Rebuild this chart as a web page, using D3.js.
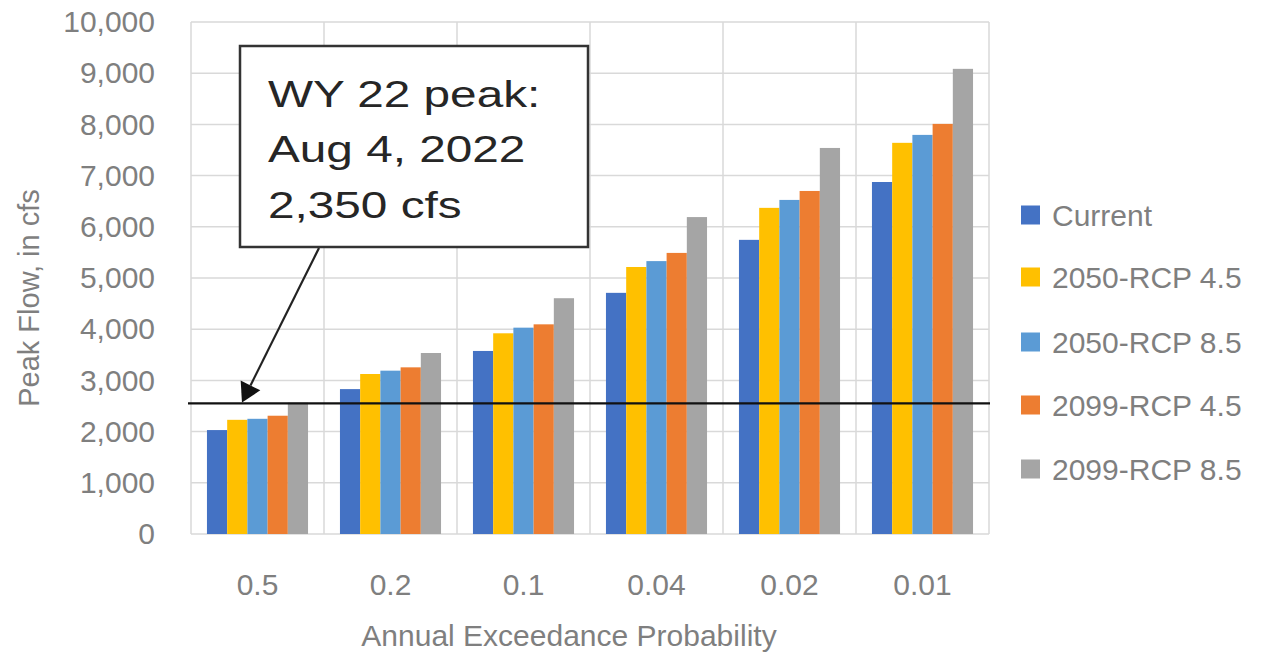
<!DOCTYPE html>
<html>
<head>
<meta charset="utf-8">
<script src="https://cdn.jsdelivr.net/npm/d3@7"></script>
<style>
  html, body { margin: 0; padding: 0; background: #fff; }
  svg { display: block; font-family: "Liberation Sans", Arial, sans-serif; }
</style>
</head>
<body>
<svg id="chart" width="1262" height="660"></svg>
<script>
const categories = ["0.5", "0.2", "0.1", "0.04", "0.02", "0.01"];
const seriesNames = ["Current", "2050-RCP 4.5", "2050-RCP 8.5", "2099-RCP 4.5", "2099-RCP 8.5"];
const seriesColors = ["#4472C4", "#FFC000", "#5B9BD5", "#ED7D31", "#A5A5A5"];
const current   = [2030, 2830, 3575, 4710, 5745, 6875];
const rcp2050_45 = [2230, 3125, 3920, 5215, 6370, 7640];
const rcp2050_85 = [2250, 3190, 4030, 5330, 6525, 7795];
const rcp2099_45 = [2310, 3255, 4095, 5490, 6700, 8010];
const rcp2099_85 = [2565, 3535, 4605, 6190, 7540, 9085];
const seriesValues = [current, rcp2050_45, rcp2050_85, rcp2099_45, rcp2099_85];
const yTicks = [0, 1000, 2000, 3000, 4000, 5000, 6000, 7000, 8000, 9000, 10000];
const peakLineValue = 2550;
const annotationLines = ["WY 22 peak:", "Aug 4, 2022", "2,350 cfs"];
const yTitle = "Peak Flow, in cfs";
const xTitle = "Annual Exceedance Probability";

const svg = d3.select("#chart");
const plotLeft = 191, plotRight = 989, plotTop = 22, plotBottom = 534;
const textColor = "#7f7f7f";
const gridColor = "#d9d9d9";

const x = d3.scaleBand().domain(categories).range([plotLeft, plotRight]).paddingInner(0.24).paddingOuter(0.12);
const xs = d3.scaleBand().domain(seriesNames).range([0, x.bandwidth()]).padding(0);
const y = d3.scaleLinear().domain([0, 10000]).range([plotBottom, plotTop]);
const step = x.step();
const halfGap = step * 0.12;

// horizontal gridlines
svg.append("g").selectAll("line").data(yTicks).join("line")
  .attr("x1", plotLeft).attr("x2", plotRight)
  .attr("y1", d => y(d)).attr("y2", d => y(d))
  .attr("stroke", gridColor).attr("stroke-width", 1.5);

// vertical gridlines at category boundaries
const bounds = categories.map(c => x(c) - halfGap).concat([x(categories[categories.length - 1]) + x.bandwidth() + halfGap]);
svg.append("g").selectAll("line").data(bounds).join("line")
  .attr("x1", d => d).attr("x2", d => d)
  .attr("y1", y(10000)).attr("y2", y(0))
  .attr("stroke", gridColor).attr("stroke-width", 1.5);

// bars
seriesNames.forEach((s, si) => {
  svg.append("g").selectAll("rect").data(categories).join("rect")
    .attr("x", c => x(c) + xs(s))
    .attr("width", xs.bandwidth())
    .attr("y", (c, i) => y(seriesValues[si][i]))
    .attr("height", (c, i) => y(0) - y(seriesValues[si][i]))
    .attr("fill", seriesColors[si]);
});

// y axis labels
const yAxis = d3.axisLeft(y).tickValues(yTicks).tickSize(0).tickPadding(0).tickFormat(d3.format(","));
const yg = svg.append("g").attr("transform", `translate(155,0)`).call(yAxis);
yg.select(".domain").remove();
yg.selectAll("text").attr("fill", textColor).attr("font-size", 30).attr("font-family", "Liberation Sans, Arial, sans-serif");

// x axis labels
const xAxis = d3.axisBottom(x).tickSize(0).tickPadding(0);
const xg = svg.append("g").attr("transform", `translate(0,574)`).call(xAxis);
xg.select(".domain").remove();
xg.selectAll("text").attr("fill", textColor).attr("font-size", 30).attr("font-family", "Liberation Sans, Arial, sans-serif");

// axis titles
svg.append("text").attr("transform", "translate(39,298) rotate(-90)")
  .attr("text-anchor", "middle").attr("font-size", 29).attr("fill", textColor).text(yTitle);
svg.append("text").attr("x", 569).attr("y", 646)
  .attr("text-anchor", "middle").attr("font-size", 30).attr("fill", textColor).text(xTitle);

// peak reference line
svg.append("line").attr("x1", 188).attr("x2", 990)
  .attr("y1", y(peakLineValue)).attr("y2", y(peakLineValue))
  .attr("stroke", "#111").attr("stroke-width", 2.2);

// arrow
const tip = [242, y(peakLineValue) - 1];
const start = [319, 248];
const ang = Math.atan2(tip[1] - start[1], tip[0] - start[0]);
const headLen = 19, headW = 11;
const bx = tip[0] - headLen * Math.cos(ang), by = tip[1] - headLen * Math.sin(ang);
svg.append("line").attr("x1", start[0]).attr("y1", start[1]).attr("x2", bx).attr("y2", by)
  .attr("stroke", "#222").attr("stroke-width", 2.2);
svg.append("path")
  .attr("d", `M${tip[0]},${tip[1]} L${bx + headW * Math.sin(ang)},${by - headW * Math.cos(ang)} L${bx - headW * Math.sin(ang)},${by + headW * Math.cos(ang)} Z`)
  .attr("fill", "#111");

// annotation box
svg.append("rect").attr("x", 240).attr("y", 46).attr("width", 348).attr("height", 201)
  .attr("fill", "#fff").attr("stroke", "#333").attr("stroke-width", 2.5);
const ag = svg.append("g").attr("transform", "translate(268,0) scale(1.29,1)");
ag.selectAll("text").data(annotationLines).join("text")
  .attr("x", 0).attr("y", (d, i) => 107 + i * 55.5)
  .attr("font-size", 37).attr("fill", "#262626").text(d => d);

// legend
const legendY = [215, 277, 342, 405, 469];
const lg = svg.append("g");
seriesNames.forEach((s, i) => {
  lg.append("rect").attr("x", 1021).attr("y", legendY[i] - 9.5).attr("width", 19).attr("height", 19).attr("fill", seriesColors[i]);
  lg.append("text").attr("x", 1052).attr("y", legendY[i]).attr("dy", "0.35em")
    .attr("font-size", 30).attr("fill", textColor).text(s);
});
</script>
</body>
</html>
